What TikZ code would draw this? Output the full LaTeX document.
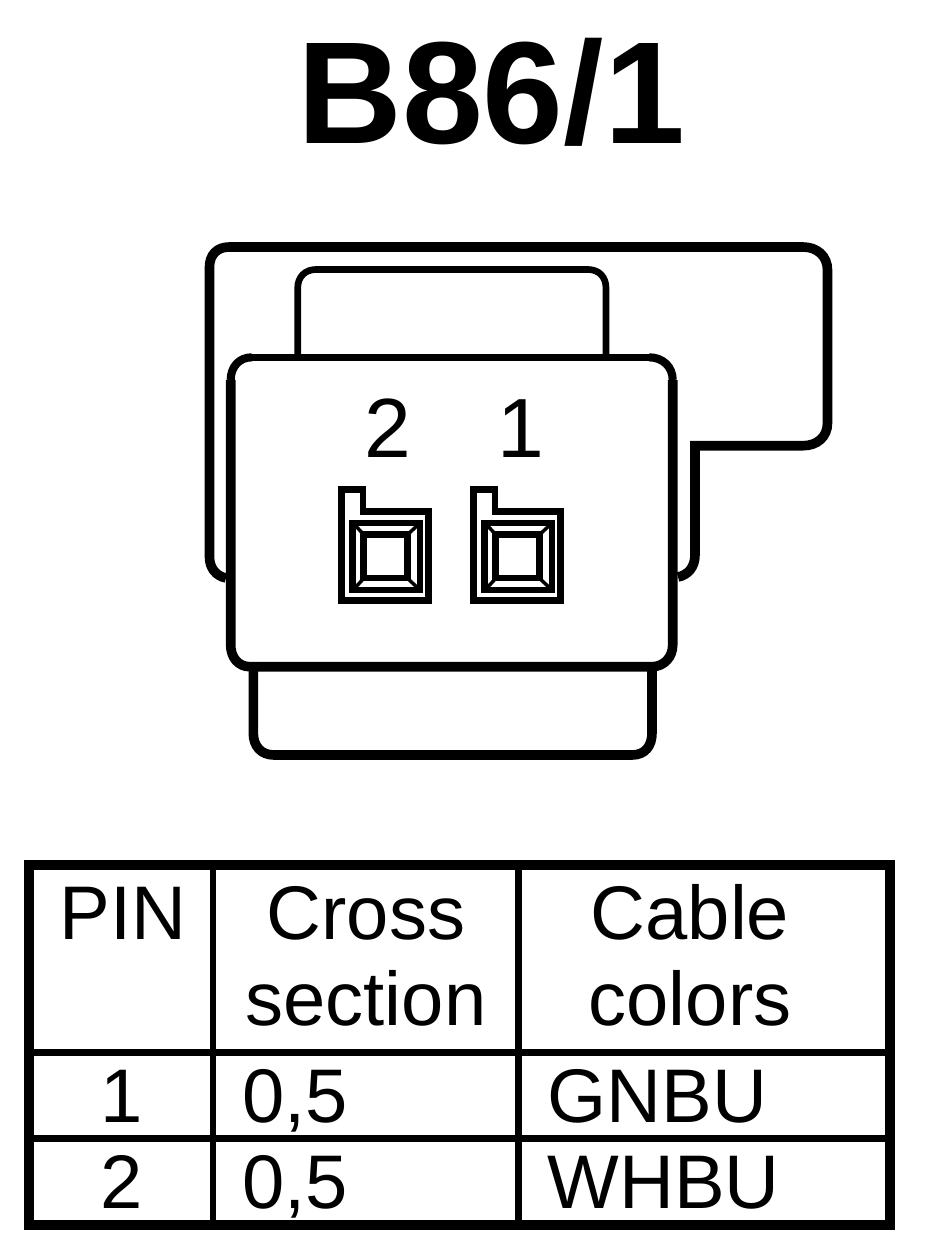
\documentclass[tikz,border=0pt]{standalone}
\usepackage{fontspec}
\setmainfont{Liberation Sans}
\tikzset{every picture/.style={line width=0.75pt}}
\tikzset{
  housing/.style={line width=7.2pt,line join=miter},
  midhousing/.style={line width=6.1pt},
  thinhousing/.style={line width=5pt,line join=miter},
  socket/.style={line width=4.9pt,line join=miter},
  tablerule/.style={line width=5.2pt},
  tableframe/.style={line width=7.6pt},
  celltext/.style={inner sep=0pt,anchor=base,font=\fontsize{57}{57}\selectfont},
  cellleft/.style={celltext,anchor=base west},
  pinlabel/.style={inner sep=0pt,anchor=base,font=\fontsize{63}{63}\selectfont}
}
\begin{document}
\begin{tikzpicture}[x=0.75pt,y=0.75pt,yscale=-1,xscale=1]
\useasboundingbox (0,0) rectangle (944,1250);

% Title
\node [inner sep=0pt,anchor=base,font=\fontsize{109}{109}\selectfont\bfseries] (title) at (491,143) {B86/1};

% Back housing
\draw [thinhousing] (297.7,357) -- (297.7,288) .. controls (297.7,277) and (305,269.5) .. (316,269.5) -- (588,269.5) .. controls (599,269.5) and (606,277) .. (606,288) -- (606,357);
\draw [housing] (226,578) .. controls (216,576) and (209.5,568) .. (209.5,557) -- (209.5,267) .. controls (209.5,255) and (217,247) .. (229,247) -- (803,247) .. controls (817,247) and (827.5,256) .. (827.5,270) -- (827.5,423) .. controls (827.5,437) and (817,445.7) .. (803,445.7) -- (695,445.7) -- (695,555) .. controls (695,567) and (688,575) .. (678,577);
% Front housing
\draw [thinhousing] (250,357.3) -- (650,357.3);
\draw [midhousing] (230.7,380) .. controls (230.7,367) and (239,357.3) .. (252,357.3);
\draw [midhousing] (649,357.3) .. controls (663,357.3) and (672.7,367) .. (672.7,380);
\draw [housing] (230.7,380) -- (230.7,645) .. controls (230.7,657) and (238,666.7) .. (250,666.7) -- (652,666.7) .. controls (664,666.7) and (672.7,657) .. (672.7,645) -- (672.7,380);
% Lower part
\draw [housing] (253.3,666.7) -- (253.3,733) .. controls (253.3,746) and (261,755) .. (274,755) -- (632,755) .. controls (645,755) and (652,746) .. (652,733) -- (652,666.7);

% Pin numbers
\node [pinlabel] (pin2) at (388,457) {2};
\node [pinlabel] (pin1) at (521,457) {1};

% Sockets
\foreach \dx in {0,132}{
\begin{scope}[xshift=\dx*0.75pt]
\draw [socket] (341.7,489.5) -- (363,489.5) -- (363,511.5) -- (428.5,511.5) -- (428.5,600.7) -- (341.7,600.7) -- cycle;
\draw [socket] (352.7,523) rectangle (420,590);
\draw [socket] (363.3,534.3) rectangle (407.5,578);
\draw [line width=2.6pt] (354,524) -- (365,536) (419,524) -- (406,536) (419,589) -- (406,577) (354,589) -- (365,577);
\end{scope}
}

% Table
\draw [tableframe] (28.7,865) rectangle (890,1225);
\draw [tablerule] (213,865) -- (213,1225);
\draw [tablerule] (518.6,865) -- (518.6,1225);
\draw [tablerule] (28.7,1052.4) -- (890,1052.4);
\draw [tablerule] (28.7,1138.5) -- (890,1138.5);

% Text Node
\node [celltext] (headpin) at (123,939) {PIN};
\node [celltext] (headcross) at (366,939) {Cross};
\node [celltext] (headsection) at (366,1025) {section};
\node [celltext] (headcable) at (690,939) {Cable};
\node [celltext] (headcolors) at (690,1025) {colors};
\node [celltext] (rowa) at (122,1122.7) {1};
\node [cellleft] (rowasize) at (242,1122.7) {0,5};
\node [cellleft] (rowacolor) at (547,1122.7) {GNBU};
\node [celltext] (rowb) at (122,1208) {2};
\node [cellleft] (rowbsize) at (242,1208) {0,5};
\node [cellleft] (rowbcolor) at (547,1208) {WHBU};
\end{tikzpicture}
\end{document}
